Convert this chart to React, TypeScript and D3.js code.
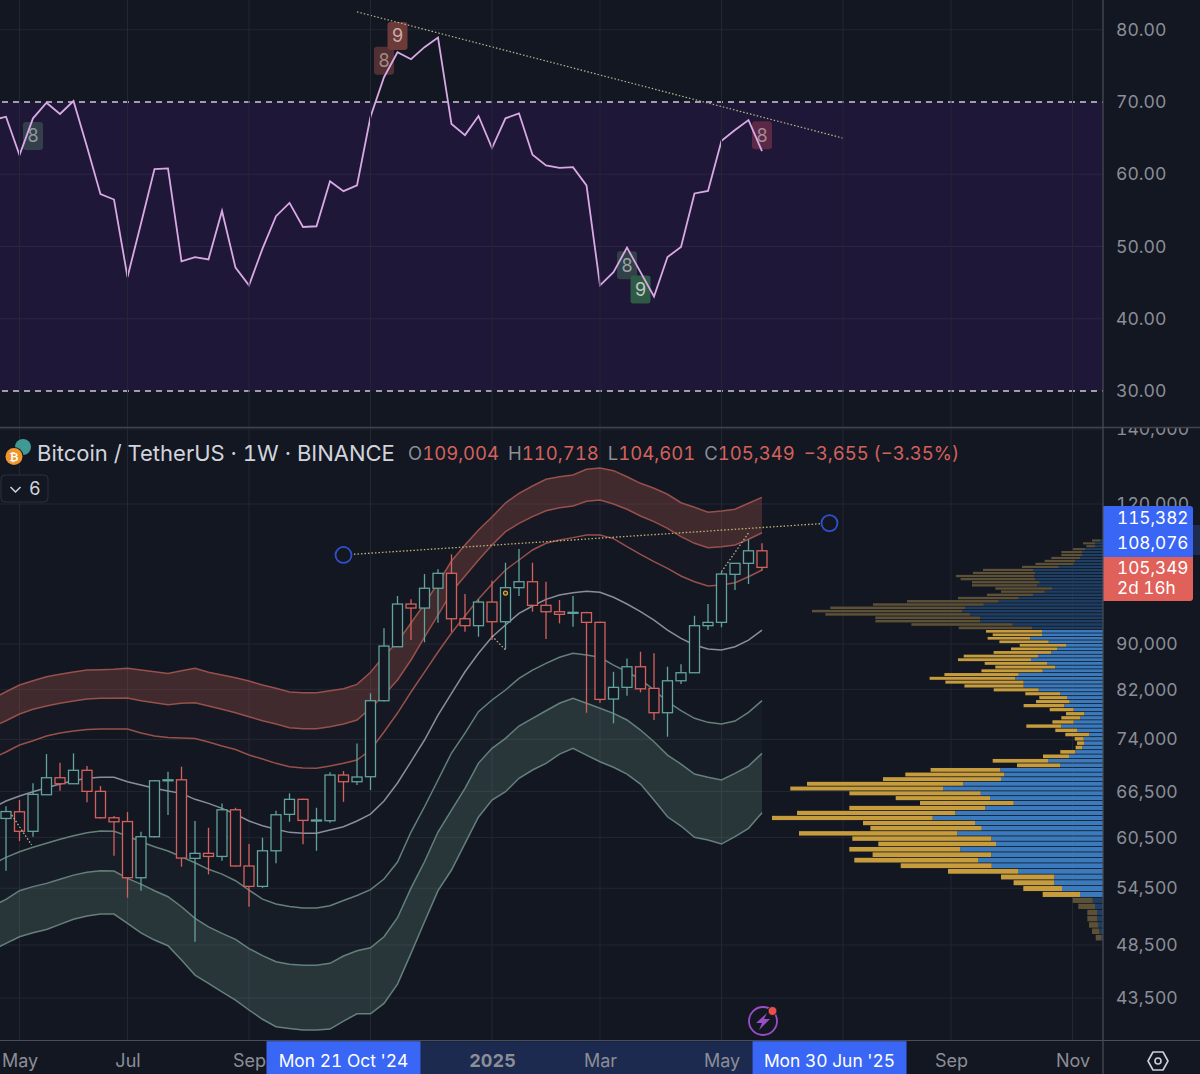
import { useEffect, useRef } from 'react';
import * as d3 from 'd3';

const WIDTH = 1200;
const HEIGHT = 1074;
const AXIS_X = 1103;
const PANE_SPLIT = 428;
const TIME_AXIS_Y = 1040;
const FONT = 'Inter, "Noto Sans", sans-serif';

const BG = '#131722';
const GRID = '#232732';
const TEXT_GREY = '#8b8e97';
const UP = '#62a39d';
const DOWN = '#d4625c';
const BLUE = '#3a66f5';

// weekly candles, first one is Mon 29 Apr 2024
const firstWeek = Date.UTC(2024, 3, 29);
const opens = [62900, 63770, 61260, 66040, 68390, 67550, 69440, 66500, 62990, 62500, 55690, 60585, 68020, 68100, 57950, 58550, 58180, 64030, 57050, 54710, 58860, 63430, 65420, 62610, 62610, 68770, 67830, 68530, 80110, 89500, 97710, 96910, 100930, 104070, 94800, 93460, 98110, 94220, 101050, 102290, 97450, 96180, 95920, 96000, 94100, 80390, 82340, 85900, 82170, 78160, 83460, 84850, 93460, 94100, 103860, 106230, 109004];
const highs = [64500, 65320, 67610, 71800, 70530, 71900, 70050, 67230, 63210, 63730, 61210, 68060, 69230, 69950, 62560, 61710, 64880, 64300, 59680, 60460, 63900, 66230, 65500, 64300, 69150, 69330, 73390, 81340, 92960, 99330, 98660, 103920, 104950, 108210, 99740, 98660, 102490, 106360, 109390, 106360, 102290, 98520, 99330, 96180, 94200, 85010, 87390, 88590, 88300, 85900, 86330, 95380, 97710, 104420, 106300, 111590, 110718];
const lows = [56500, 60050, 60585, 66040, 66585, 67550, 65020, 62900, 58260, 53450, 54220, 60500, 63340, 56960, 48820, 56080, 57660, 57000, 52470, 54550, 57360, 62470, 59640, 58860, 62350, 65090, 67370, 66680, 80000, 89500, 90740, 90320, 94030, 92300, 92300, 91370, 90740, 89030, 99330, 96180, 90930, 93910, 93270, 78160, 79770, 76470, 80940, 81500, 77000, 74400, 82900, 84800, 92630, 93150, 100570, 101810, 104601];
const closes = [63800, 61260, 66090, 68390, 67550, 69440, 66500, 62990, 62470, 55690, 60585, 67960, 68100, 57990, 58550, 58180, 64030, 57050, 54710, 58860, 63380, 65420, 62650, 62700, 68770, 67830, 68490, 80110, 89630, 97710, 96910, 100930, 104070, 94800, 93460, 98110, 94220, 101050, 102290, 97450, 96180, 95660, 96060, 94100, 80330, 82340, 85900, 82100, 78160, 83460, 84850, 93460, 94100, 103920, 106230, 109004, 105349];

// envelope lines, these start one week earlier so they run off the left edge
const bandUpper3 = [80400, 81600, 82730, 83470, 84160, 84570, 84970, 85320, 85370, 85440, 85620, 85320, 85020, 84740, 85200, 85620, 84920, 84450, 83980, 83420, 82730, 82180, 81560, 81440, 81440, 81770, 82110, 82850, 84920, 87810, 90370, 93970, 97710, 102020, 106740, 110310, 113770, 116840, 120250, 122670, 124520, 126250, 126920, 127360, 128870, 129210, 128500, 126920, 125210, 123940, 122420, 120320, 119190, 117980, 118290, 118710, 120170, 121660];
const bandUpper2 = [75900, 76880, 77950, 78710, 79250, 79690, 80070, 80400, 80510, 80510, 80560, 80120, 79780, 79460, 79690, 79780, 79250, 78710, 78160, 77520, 76880, 76360, 75790, 75630, 75630, 75940, 76360, 77000, 78870, 81050, 83590, 87100, 91310, 95530, 100150, 103500, 106960, 110310, 113370, 115340, 116920, 118360, 119100, 119510, 120670, 121000, 120000, 118710, 117080, 115720, 114160, 112210, 110690, 109700, 109930, 110310, 111620, 113130];
const bandUpper1 = [71200, 72100, 73140, 73790, 74500, 74960, 75270, 75510, 75580, 75580, 75580, 74960, 74500, 74280, 74200, 74130, 73600, 72990, 72470, 71650, 71070, 70440, 69950, 69770, 69730, 70050, 70440, 70920, 72400, 75120, 78110, 81560, 84970, 88540, 92060, 95330, 98720, 101810, 104780, 106960, 109180, 110690, 111460, 111990, 112600, 112600, 111760, 109930, 108210, 106590, 105150, 103500, 102300, 101400, 101600, 102090, 103350, 104780];
const bandBasis = [64250, 65190, 65860, 66450, 67000, 67510, 67970, 68310, 68450, 68450, 67830, 67370, 66920, 66540, 66230, 65420, 64880, 64220, 63470, 62570, 61970, 61510, 61130, 61010, 61010, 61420, 61840, 62570, 63470, 65190, 67650, 70680, 73900, 77790, 81340, 85020, 88300, 91310, 93590, 95860, 97310, 98660, 99540, 100010, 100300, 100100, 99070, 97710, 96180, 94550, 92630, 91060, 89820, 89090, 88900, 89510, 90740, 92630];
const bandLower1 = [57280, 58070, 58740, 59280, 59770, 60260, 60710, 61080, 61300, 61260, 60670, 59960, 59350, 58830, 58140, 57430, 56660, 56110, 55350, 54300, 53300, 52760, 52490, 52330, 52330, 52570, 53140, 53690, 54350, 55540, 57510, 61170, 64430, 68070, 71950, 74960, 78320, 80230, 81890, 83880, 85320, 86500, 87580, 88300, 88000, 87580, 86200, 85020, 83710, 81890, 79950, 78480, 77270, 76630, 76360, 76830, 78220, 80120];
const bandLower2 = [52550, 53270, 54230, 54680, 55050, 55510, 55990, 56310, 56500, 56460, 55620, 54970, 54220, 53560, 52470, 51230, 50350, 49670, 49070, 48150, 47460, 46860, 46620, 46530, 46530, 46710, 47420, 47940, 48230, 49330, 51300, 54520, 57550, 61170, 64000, 66920, 70480, 72650, 74150, 76050, 77270, 78480, 79690, 80510, 79690, 78870, 78060, 77000, 75430, 73640, 71650, 70340, 68910, 68450, 68070, 69010, 70050, 71900];
const bandLower3 = [48000, 48670, 49330, 49730, 50080, 50600, 51130, 51480, 51690, 51690, 50700, 49730, 49000, 48430, 47030, 45600, 44830, 44060, 43310, 42440, 41640, 41010, 40860, 40730, 40730, 40810, 41490, 42110, 42110, 43020, 44760, 47680, 50870, 54230, 56580, 59770, 63100, 65320, 66450, 68310, 69480, 70440, 71800, 72650, 71650, 70680, 69870, 68910, 67510, 65320, 63120, 61930, 60510, 60170, 59680, 60590, 61640, 63640];

// rsi, also from one week before the first candle
const rsiValues = [67.5, 67.96, 62.65, 67.74, 69.9, 68.34, 70.14, 63.8, 57.24, 56.5, 45.77, 53.18, 60.71, 60.8, 47.95, 48.54, 48.22, 54.92, 47.07, 44.62, 49.71, 54.19, 56.03, 52.7, 52.8, 59.04, 57.66, 58.45, 67.96, 73.43, 76.89, 75.92, 77.59, 78.92, 66.95, 65.42, 68.06, 63.62, 67.74, 68.43, 62.69, 61.22, 60.89, 60.98, 58.45, 44.62, 46.46, 49.85, 46.46, 43.09, 48.54, 49.93, 57.34, 57.7, 64.63, 66.12, 67.5, 63.2];

// volume profile rows, top row first
const profileTop = 111340;
const profileBottom = 49240;
const valueAreaHigh = 93000;
const valueAreaLow = 53200;
const profileUp = [2.7, 7.7, 7.7, 17.7, 21, 21, 22.7, 27.7, 29.3, 44.3, 70, 67.7, 68.7, 67.7, 63.3, 66, 51, 58.3, 70, 84.3, 104.3, 119.3, 137.7, 141, 132.7, 122.7, 122.7, 90.3, 71, 61, 61, 72.7, 54.3, 37, 46, 51.7, 65, 72, 56, 47.7, 60.3, 84.3, 87.7, 79.3, 79.3, 64.3, 42.7, 36, 33.3, 38.7, 29.3, 18.7, 22.7, 29.3, 41.7, 26, 13.7, 19.3, 18.7, 20.7, 27.7, 34, 55, 42.7, 102.7, 98.7, 102, 139.7, 160, 122.3, 113, 89.3, 117.7, 147.7, 170.3, 128, 121.3, 145.7, 111.7, 107, 142.7, 111.7, 125, 111.3, 85, 48.7, 48.7, 41, 23, 10.3, 8, 5.7, 5.7, 4.7, 3.7, 1.3];
const profileDown = [8.3, 12.3, 9, 12.3, 20.7, 20.7, 29, 30.7, 38.3, 36.7, 50, 62.3, 78.3, 74.7, 67.7, 65, 56.7, 43.7, 46, 60.7, 91.7, 110.7, 135, 150, 145, 105, 105, 101.3, 73.3, 56, 49.3, 42.7, 49.3, 46.3, 46, 57.7, 74.3, 73, 62.3, 60, 61.3, 74.3, 85.7, 78.3, 59.3, 45, 35, 27.7, 33.7, 40.7, 24, 18.3, 19, 21.3, 35, 21.7, 24, 9, 7.3, 6.7, 15, 26, 55.3, 43.3, 69.7, 99, 118, 156.3, 152.7, 131.3, 94.3, 93.7, 136, 158.3, 160.7, 112, 111.3, 158.3, 139, 117.7, 111, 118.7, 123.7, 91, 70, 53.3, 40.7, 38.7, 37.3, 20, 16.7, 10, 10, 9.3, 7.3, 6];

const priceTicks = [140000, 120000, 90000, 82000, 74000, 66500, 60500, 54500, 48500, 43500];
const rsiTicks = [80, 70, 60, 50, 40, 30];
const labelDates = [
  Date.UTC(2024, 4, 6), Date.UTC(2024, 6, 1), Date.UTC(2024, 8, 2), Date.UTC(2025, 0, 6),
  Date.UTC(2025, 2, 3), Date.UTC(2025, 4, 5), Date.UTC(2025, 8, 1), Date.UTC(2025, 10, 3),
];
// these two months sit under the crosshair boxes, only the grid line shows
const gridDates = [...labelDates, Date.UTC(2024, 10, 4), Date.UTC(2025, 6, 7)];

const crossStart = { date: Date.UTC(2024, 9, 21), price: 108076 };
const crossEnd = { date: Date.UTC(2025, 5, 30), price: 115382 };

// td sequential markers on the rsi pane, week = candle number
const tdLabels = [
  { week: 2, rsi: 65.3, text: '8', fill: '#44605c', color: '#8f9a9c', opacity: 0.55 },
  { week: 28, rsi: 75.7, text: '8', fill: '#6d3a3a', color: '#a38b88', opacity: 0.7 },
  { week: 29, rsi: 79.15, text: '9', fill: '#6d3a3a', color: '#c9aea6', opacity: 1 },
  { week: 46, rsi: 47.4, text: '8', fill: '#3b5350', color: '#9ba3a3', opacity: 0.7 },
  { week: 47, rsi: 44.06, text: '9', fill: '#2f5a45', color: '#bccabf', opacity: 1 },
  { week: 56, rsi: 65.4, text: '8', fill: '#6a2e48', color: '#a78a98', opacity: 0.8 },
];

// dotted drawings, week can be a fraction
const priceDotted = [
  { from: [0.43, 63340], to: [1.9, 59560] },
  { from: [36, 91500], to: [37, 88900] },
  { from: [53, 104420], to: [55, 113060] },
];
const rsiTrend = { from: [26, 82.48], to: [62, 65] };

export default function App() {
  const svgRef = useRef<SVGSVGElement>(null);

  useEffect(() => {
    if (!svgRef.current) return;
    document.body.style.margin = '0';
    document.body.style.background = BG;

    const svg = d3.select(svgRef.current);
    svg.selectAll('*').remove();

    const WEEK = 7 * 24 * 3600 * 1000;
    const weekDate = (i: number) => new Date(firstWeek + i * WEEK);
    const x = d3.scaleUtc().domain([weekDate(0), weekDate(80)]).range([6, 1086]);
    const wx = (i: number) => x(weekDate(i));
    const yPrice = d3.scaleLog().domain([120000, 43500]).range([504, 998]);
    const yRsi = d3.scaleLinear().domain([70, 30]).range([102, 391]);

    svg.append('rect').attr('width', WIDTH).attr('height', HEIGHT).attr('fill', BG);

    const defs = svg.append('defs');
    defs.append('clipPath').attr('id', 'rsi-clip').append('rect')
      .attr('width', AXIS_X).attr('height', PANE_SPLIT);
    defs.append('clipPath').attr('id', 'price-clip').append('rect')
      .attr('y', PANE_SPLIT).attr('width', AXIS_X).attr('height', TIME_AXIS_Y - PANE_SPLIT);
    defs.append('clipPath').attr('id', 'price-axis-clip').append('rect')
      .attr('x', AXIS_X).attr('y', PANE_SPLIT).attr('width', WIDTH - AXIS_X).attr('height', TIME_AXIS_Y - PANE_SPLIT);

    // RSI pane
    const rsiPane = svg.append('g').attr('clip-path', 'url(#rsi-clip)');
    rsiPane.append('rect')
      .attr('y', yRsi(70)).attr('width', AXIS_X).attr('height', yRsi(30) - yRsi(70))
      .attr('fill', '#1f1737');

    // vertical grid runs through both panes
    svg.append('g').selectAll('line').data(gridDates).join('line')
      .attr('x1', (d) => x(new Date(d))).attr('x2', (d) => x(new Date(d)))
      .attr('y1', 0).attr('y2', TIME_AXIS_Y)
      .attr('stroke', GRID).attr('stroke-width', 1);

    rsiPane.append('g').selectAll('line').data(rsiTicks.filter((d) => d !== 70 && d !== 30)).join('line')
      .attr('x1', 0).attr('x2', AXIS_X)
      .attr('y1', (d) => yRsi(d)).attr('y2', (d) => yRsi(d))
      .attr('stroke', (d) => (d === 80 ? GRID : '#2c2546'));

    rsiPane.append('g').selectAll('line').data([70, 30]).join('line')
      .attr('x1', 2).attr('x2', AXIS_X)
      .attr('y1', (d) => yRsi(d)).attr('y2', (d) => yRsi(d))
      .attr('stroke', '#d0c9d6').attr('stroke-width', 1.3).attr('stroke-dasharray', '6 5');

    const tdGroups = rsiPane.append('g').selectAll('g').data(tdLabels).join('g')
      .attr('transform', (d) => `translate(${wx(d.week)},${yRsi(d.rsi)})`);
    tdGroups.append('rect')
      .attr('x', -10).attr('y', -14).attr('width', 20).attr('height', 28).attr('rx', 3)
      .attr('fill', (d) => d.fill).attr('opacity', (d) => d.opacity);
    tdGroups.append('text')
      .attr('text-anchor', 'middle').attr('dy', '0.36em')
      .attr('font-family', FONT).attr('font-size', 18)
      .attr('fill', (d) => d.color)
      .text((d) => d.text);

    const rsiLine = d3.line<number>()
      .x((_, i) => wx(i - 1))
      .y((d) => yRsi(d));
    rsiPane.append('path').datum(rsiValues)
      .attr('d', rsiLine).attr('fill', 'none')
      .attr('stroke', '#d9a9e6').attr('stroke-width', 1.8).attr('stroke-linejoin', 'miter');

    rsiPane.append('line')
      .attr('x1', wx(rsiTrend.from[0])).attr('y1', yRsi(rsiTrend.from[1]))
      .attr('x2', wx(rsiTrend.to[0])).attr('y2', yRsi(rsiTrend.to[1]))
      .attr('stroke', '#b9b78e').attr('stroke-width', 1.2).attr('stroke-dasharray', '1.5 2');

    const rsiAxis = svg.append('g')
      .attr('transform', `translate(${AXIS_X},0)`)
      .call(d3.axisRight(yRsi).tickValues(rsiTicks).tickSize(0).tickPadding(13).tickFormat(d3.format('.2f')));
    rsiAxis.select('.domain').remove();
    rsiAxis.selectAll('text').attr('fill', TEXT_GREY).attr('font-family', FONT).attr('font-size', 17.6);

    // price pane
    const pricePane = svg.append('g').attr('clip-path', 'url(#price-clip)');

    pricePane.append('g').selectAll('line').data(priceTicks).join('line')
      .attr('x1', 0).attr('x2', AXIS_X)
      .attr('y1', (d) => yPrice(d)).attr('y2', (d) => yPrice(d))
      .attr('stroke', GRID);

    const bandArea = (top: number[], bottom: number[]) =>
      d3.area<number>()
        .x((_, i) => wx(i - 1))
        .y0((_, i) => yPrice(bottom[i]))
        .y1((d) => yPrice(d))(top);
    const bandLine = d3.line<number>()
      .x((_, i) => wx(i - 1))
      .y((d) => yPrice(d));

    const fills = [
      { top: bandUpper3, bottom: bandUpper2, color: '#a8554c', opacity: 0.3 },
      { top: bandUpper2, bottom: bandUpper1, color: '#a8554c', opacity: 0.025 },
      { top: bandLower1, bottom: bandLower2, color: '#7fa892', opacity: 0.045 },
      { top: bandLower2, bottom: bandLower3, color: '#7fa892', opacity: 0.21 },
    ];
    pricePane.append('g').selectAll('path').data(fills).join('path')
      .attr('d', (d) => bandArea(d.top, d.bottom))
      .attr('fill', (d) => d.color).attr('fill-opacity', (d) => d.opacity);

    const lines = [
      { values: bandUpper3, color: '#98504b' },
      { values: bandUpper2, color: '#98504b' },
      { values: bandUpper1, color: '#98504b' },
      { values: bandBasis, color: '#8b8d9d' },
      { values: bandLower1, color: '#64807a' },
      { values: bandLower2, color: '#64807a' },
      { values: bandLower3, color: '#64807a' },
    ];
    pricePane.append('g').selectAll('path').data(lines).join('path')
      .attr('d', (d) => bandLine(d.values))
      .attr('fill', 'none').attr('stroke', (d) => d.color).attr('stroke-width', 1.5);

    // volume profile
    const profileStep = (profileTop - profileBottom) / (profileUp.length - 1);
    const profile = profileUp.map((up, i) => ({
      up,
      down: profileDown[i],
      price: profileTop - i * profileStep,
    }));
    const xVolume = d3.scaleLinear().domain([0, 331]).range([AXIS_X, AXIS_X - 331]);
    const inValueArea = (p: number) => p <= valueAreaHigh && p >= valueAreaLow;
    const rowTop = (d: { price: number }) => yPrice(d.price + profileStep / 2) + 0.4;
    const rowHeight = (d: { price: number }) =>
      yPrice(d.price - profileStep / 2) - yPrice(d.price + profileStep / 2) - 0.8;

    const rows = pricePane.append('g').selectAll('g').data(profile).join('g');
    rows.append('rect')
      .attr('x', (d) => xVolume(d.up))
      .attr('y', rowTop)
      .attr('width', (d) => AXIS_X - xVolume(d.up))
      .attr('height', rowHeight)
      .attr('fill', (d) => (inValueArea(d.price) ? '#3b7bbd' : '#1e3e63'));
    rows.append('rect')
      .attr('x', (d) => xVolume(d.up + d.down))
      .attr('y', rowTop)
      .attr('width', (d) => xVolume(d.up) - xVolume(d.up + d.down))
      .attr('height', rowHeight)
      .attr('fill', (d) => (inValueArea(d.price) ? '#c69c3d' : '#5c5037'));

    // candles
    const candles = pricePane.append('g').selectAll('g').data(opens).join('g')
      .attr('stroke', (_, i) => (closes[i] >= opens[i] ? UP : DOWN))
      .attr('stroke-width', 1.3);
    candles.append('line')
      .attr('x1', (_, i) => wx(i)).attr('x2', (_, i) => wx(i))
      .attr('y1', (_, i) => yPrice(highs[i])).attr('y2', (_, i) => yPrice(lows[i]));
    candles.append('rect')
      .attr('x', (_, i) => wx(i) - 5).attr('width', 10)
      .attr('y', (_, i) => yPrice(Math.max(opens[i], closes[i])))
      .attr('height', (_, i) => Math.max(1, Math.abs(yPrice(opens[i]) - yPrice(closes[i]))))
      .attr('fill', BG);

    // dotted drawings
    pricePane.append('g').selectAll('line').data(priceDotted).join('line')
      .attr('x1', (d) => wx(d.from[0])).attr('y1', (d) => yPrice(d.from[1]))
      .attr('x2', (d) => wx(d.to[0])).attr('y2', (d) => yPrice(d.to[1]))
      .attr('stroke', '#c9c39a').attr('stroke-width', 1.2).attr('stroke-dasharray', '1.5 2');

    const xStart = x(new Date(crossStart.date));
    const xEnd = x(new Date(crossEnd.date));
    pricePane.append('line')
      .attr('x1', xStart).attr('y1', yPrice(crossStart.price))
      .attr('x2', xEnd).attr('y2', yPrice(crossEnd.price))
      .attr('stroke', '#c2b474').attr('stroke-width', 1.3).attr('stroke-dasharray', '1.5 2');
    pricePane.append('g').selectAll('circle').data([crossStart, crossEnd]).join('circle')
      .attr('cx', (d) => x(new Date(d.date))).attr('cy', (d) => yPrice(d.price))
      .attr('r', 8).attr('fill', BG).attr('stroke', '#3150cf').attr('stroke-width', 1.8);

    // small alert marker inside one of the candles
    pricePane.append('circle')
      .attr('cx', wx(37)).attr('cy', yPrice(99940)).attr('r', 2)
      .attr('fill', '#3a3020').attr('stroke', '#e0a530').attr('stroke-width', 1.2);

    // header
    const legend = svg.append('g').attr('font-family', FONT);
    legend.append('circle').attr('cx', 23).attr('cy', 447).attr('r', 8).attr('fill', '#3f9a94');
    legend.append('circle').attr('cx', 14).attr('cy', 456.5).attr('r', 9.5).attr('fill', BG);
    legend.append('circle').attr('cx', 14).attr('cy', 456.5).attr('r', 8.5).attr('fill', '#f0952c');
    legend.append('text').attr('x', 14).attr('y', 460.5).attr('text-anchor', 'middle')
      .attr('font-size', 11).attr('font-weight', 700).attr('fill', '#fff')
      .attr('font-family', '"DejaVu Sans", sans-serif').text('₿');
    legend.append('text').attr('x', 37).attr('y', 461).attr('font-size', 22).attr('fill', '#d1d4dc')
      .text('Bitcoin / TetherUS · 1W · BINANCE');

    const ohlc = legend.append('text').attr('x', 408).attr('y', 460).attr('font-size', 18.5);
    [
      ['O', '109,004'],
      ['H', '110,718'],
      ['L', '104,601'],
      ['C', '105,349'],
    ].forEach(([k, v], i) => {
      ohlc.append('tspan').attr('dx', i === 0 ? 0 : 9).attr('fill', TEXT_GREY).text(k);
      ohlc.append('tspan').attr('fill', DOWN).text(v);
    });
    ohlc.append('tspan').attr('dx', 9).attr('fill', DOWN).text('−3,655 (−3.35%)');

    legend.append('rect').attr('x', 1).attr('y', 475).attr('width', 47).attr('height', 27).attr('rx', 4)
      .attr('fill', BG).attr('stroke', '#2d313c');
    legend.append('path').attr('d', 'M10.5 487 l5 5 l5 -5')
      .attr('fill', 'none').attr('stroke', '#d1d4dc').attr('stroke-width', 1.5);
    legend.append('text').attr('x', 29).attr('y', 495).attr('font-size', 18).attr('fill', '#d1d4dc').text('6');

    // lightning button
    const bolt = svg.append('g').attr('transform', 'translate(763,1021)');
    bolt.append('circle').attr('r', 14).attr('fill', BG).attr('stroke', '#9a4fc8').attr('stroke-width', 1.8);
    bolt.append('path').attr('d', 'M4 -8 L-7 2 L-1 2 L-4 9 L7 -2 L1 -2 Z').attr('fill', '#9a4fc8');
    bolt.append('circle').attr('cx', 9.5).attr('cy', -10).attr('r', 4.5).attr('fill', '#e8504a').attr('stroke', BG);

    // price axis, clip sits on a wrapper so the axis transform does not shift it
    const priceAxis = svg.append('g')
      .attr('clip-path', 'url(#price-axis-clip)')
      .append('g')
      .attr('transform', `translate(${AXIS_X},0)`)
      .call(d3.axisRight(yPrice).tickValues(priceTicks).tickSize(0).tickPadding(13).tickFormat(d3.format(',')));
    priceAxis.select('.domain').remove();
    priceAxis.selectAll('text').attr('fill', TEXT_GREY).attr('font-family', FONT).attr('font-size', 17.6);

    // price labels
    const tags = svg.append('g').attr('font-family', FONT).attr('font-size', 17.2).attr('fill', '#fff');
    tags.append('rect').attr('x', 1193).attr('y', 525).attr('width', 7).attr('height', 30).attr('fill', '#1e2c52');
    tags.append('path').attr('d', 'M1103 506 H1190 a3 3 0 0 1 3 3 V557 H1103 Z').attr('fill', BLUE);
    tags.append('path').attr('d', 'M1103 557 H1193 V598 a3 3 0 0 1 -3 3 H1103 Z').attr('fill', '#e0605a');
    tags.append('text').attr('x', 1117).attr('y', 524).text('115,382');
    tags.append('text').attr('x', 1117).attr('y', 549).text('108,076');
    tags.append('text').attr('x', 1117).attr('y', 574).text('105,349');
    tags.append('text').attr('x', 1117).attr('y', 594).text('2d 16h');

    // frame lines
    svg.append('line').attr('x1', 0).attr('x2', WIDTH).attr('y1', PANE_SPLIT - 0.5).attr('y2', PANE_SPLIT - 0.5)
      .attr('stroke', '#40434d').attr('stroke-width', 1.5);
    svg.append('line').attr('x1', AXIS_X).attr('x2', AXIS_X).attr('y1', 0).attr('y2', HEIGHT)
      .attr('stroke', '#4a4d57').attr('stroke-width', 1.2);
    svg.append('line').attr('x1', 0).attr('x2', WIDTH).attr('y1', TIME_AXIS_Y + 0.5).attr('y2', TIME_AXIS_Y + 0.5)
      .attr('stroke', '#4a4d57').attr('stroke-width', 1.2);

    // band between the two crosshair dates on the time axis
    const boxW = 154;
    svg.append('rect')
      .attr('x', xStart + boxW / 2).attr('y', TIME_AXIS_Y + 1.2)
      .attr('width', xEnd - xStart - boxW).attr('height', HEIGHT - TIME_AXIS_Y)
      .attr('fill', '#1b2a4e');

    // time axis
    const timeAxis = svg.append('g')
      .attr('transform', `translate(0,${TIME_AXIS_Y})`)
      .call(
        d3.axisBottom(x)
          .tickValues(labelDates.map((d) => new Date(d)))
          .tickSize(0)
          .tickPadding(14)
          .tickFormat((d) => ((d as Date).getUTCFullYear() === 2025 && (d as Date).getUTCMonth() === 0
            ? '2025'
            : d3.utcFormat('%b')(d as Date)))
      );
    timeAxis.select('.domain').remove();
    timeAxis.selectAll('text')
      .attr('fill', TEXT_GREY).attr('font-family', FONT).attr('font-size', 18)
      .attr('font-weight', (d) => ((d as Date).getUTCMonth() === 0 ? 700 : 400));

    const crossFormat = d3.utcFormat("%a %-d %b '%y");
    const crossTags = svg.append('g').attr('font-family', FONT).attr('font-size', 17.4);
    [crossStart, crossEnd].forEach((c) => {
      const cx = x(new Date(c.date));
      crossTags.append('rect')
        .attr('x', cx - boxW / 2).attr('y', TIME_AXIS_Y + 1.2)
        .attr('width', boxW).attr('height', HEIGHT - TIME_AXIS_Y)
        .attr('fill', BLUE);
      crossTags.append('text')
        .attr('x', cx).attr('y', TIME_AXIS_Y + 27).attr('text-anchor', 'middle').attr('fill', '#fff')
        .text(crossFormat(new Date(c.date)));
    });

    // settings icon
    const gear = svg.append('g').attr('transform', 'translate(1158,1061)')
      .attr('fill', 'none').attr('stroke', '#cdd0d8').attr('stroke-width', 1.6);
    gear.append('path').attr('d', 'M-10 0 L-5 -9 H5 L10 0 L5 9 H-5 Z').attr('stroke-linejoin', 'round');
    gear.append('circle').attr('r', 3);
  }, []);

  return (
    <svg
      ref={svgRef}
      width={WIDTH}
      height={HEIGHT}
      style={{ display: 'block', fontVariantNumeric: 'tabular-nums' }}
    />
  );
}
